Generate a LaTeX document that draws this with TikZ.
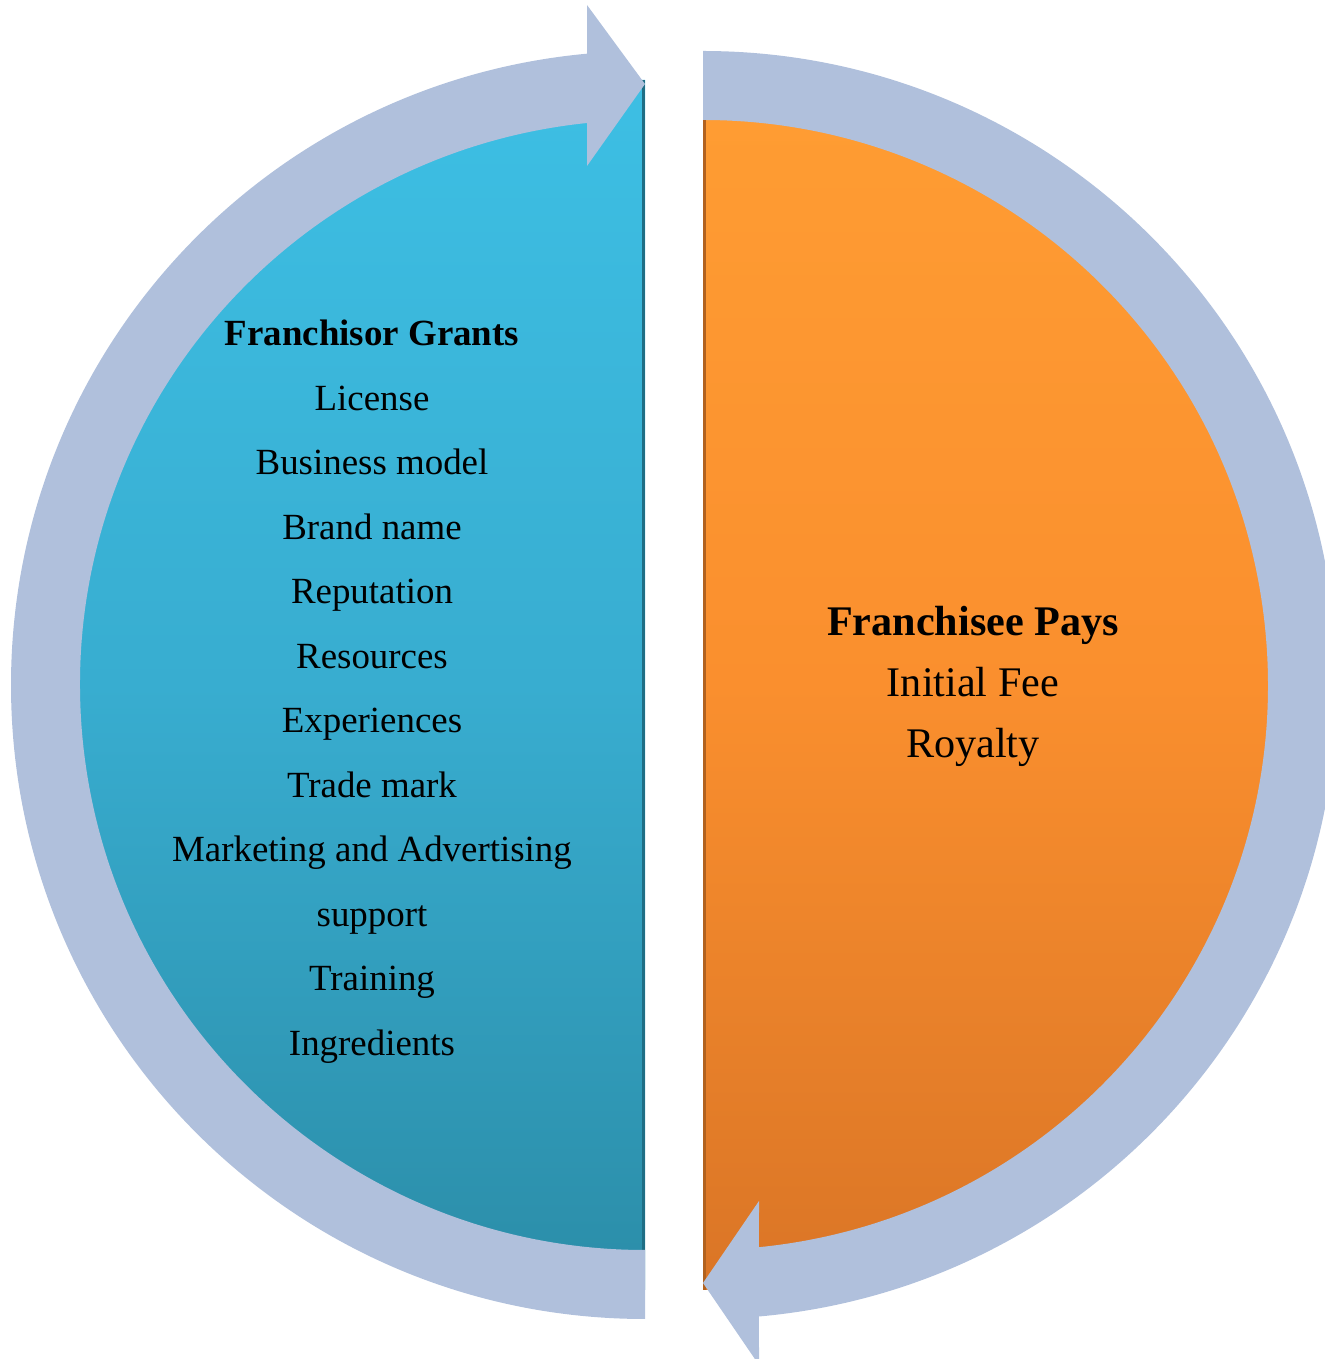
\documentclass[tikz,border=0pt]{standalone}
\usepackage{fontspec}
\setmainfont{Liberation Serif}
\usepackage{tikz}
\usetikzlibrary{calc}
\definecolor{flowblue}{HTML}{B0C0DC}
\definecolor{cyantop}{HTML}{3DBFE4}
\definecolor{cyanmid}{HTML}{38ADD0}
\definecolor{cyanbot}{HTML}{2B8DA8}
\definecolor{cyanedge}{HTML}{1F6E85}
\definecolor{orangetop}{HTML}{FF9D33}
\definecolor{orangemid}{HTML}{FA8F2E}
\definecolor{orangebot}{HTML}{DA7526}
\definecolor{orangeedge}{HTML}{B2621F}
\tikzset{
  flow/.style={fill=flowblue, draw=none},
  grantside/.style={top color=cyantop, bottom color=cyanbot, middle color=cyanmid, draw=none},
  payside/.style={top color=orangetop, bottom color=orangebot, middle color=orangemid, draw=none},
  edge/.style={line width=0.06cm, line cap=butt},
  grant/.style={anchor=base, inner sep=0pt, font=\fontsize{21}{25}\selectfont},
  granthead/.style={grant, font=\fontsize{21}{25}\selectfont\bfseries},
  pay/.style={anchor=base, inner sep=0pt, font=\fontsize{24}{28}\selectfont},
  payhead/.style={pay, font=\fontsize{24}{28}\selectfont\bfseries},
}

\begin{document}
\begin{tikzpicture}
  \useasboundingbox (0,0) rectangle (26.5,27.18);
  \coordinate (L) at (12.9,13.48);
  \coordinate (R) at (14.06,13.48);
  \def\rD{12.1}
  \def\rIn{11.3}
  \def\rOut{12.68}
  % the two halves
  \shade[grantside] (L) ++(90:\rD) arc[start angle=90, end angle=270, radius=\rD] -- cycle;
  \shade[payside] (R) ++(90:\rD) arc[start angle=90, end angle=-90, radius=\rD] -- cycle;
  \draw[edge, cyanedge] ($(L)+(-0.03,\rD)$) -- ($(L)+(-0.03,-\rD)$);
  \draw[edge, orangeedge] ($(R)+(0.03,\rD)$) -- ($(R)+(0.03,-\rD)$);
  % arrows round the halves
  \begin{scope}[shift={(L)}]
    \fill[flow] (270:\rOut) arc[start angle=270, end angle={90+asin(1.16/\rOut)}, radius=\rOut]
      -- (-1.16,13.6) -- (0,12.02) -- (-1.16,10.38)
      -- ({90+asin(1.16/\rIn)}:\rIn) arc[start angle={90+asin(1.16/\rIn)}, end angle=270, radius=\rIn] -- cycle;
  \end{scope}
  \begin{scope}[shift={(R)}]
    \fill[flow] (90:\rOut) arc[start angle=90, end angle={-90+asin(1.12/\rOut)}, radius=\rOut]
      -- (1.12,-13.6) -- (0,-11.96) -- (1.12,-10.32)
      -- ({-90+asin(1.12/\rIn)}:\rIn) arc[start angle={-90+asin(1.12/\rIn)}, end angle=90, radius=\rIn] -- cycle;
  \end{scope}
  % what each side gives
  \node[granthead] (grants) at (7.44,20.26) {Franchisor Grants};
  \node[grant] (license) at (7.44,18.97) {License};
  \node[grant] (model) at (7.44,17.68) {Business model};
  \node[grant] (brand) at (7.44,16.39) {Brand name};
  \node[grant] (reputation) at (7.44,15.10) {Reputation};
  \node[grant] (resources) at (7.44,13.81) {Resources};
  \node[grant] (experiences) at (7.44,12.52) {Experiences};
  \node[grant] (trademark) at (7.44,11.23) {Trade mark};
  \node[grant] (marketing) at (7.44,9.94) {Marketing and Advertising};
  \node[grant] (support) at (7.44,8.65) {support};
  \node[grant] (training) at (7.44,7.36) {Training};
  \node[grant] (ingredients) at (7.44,6.07) {Ingredients};
  \node[payhead] (pays) at (19.46,14.46) {Franchisee Pays};
  \node[pay] (fee) at (19.46,13.24) {Initial Fee};
  \node[pay] (royalty) at (19.46,12.02) {Royalty};
\end{tikzpicture}
\end{document}
